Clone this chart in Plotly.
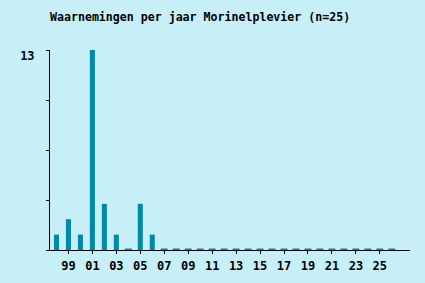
import plotly.graph_objects as go

years = list(range(1998, 2027))
counts = [1, 2, 1, 13, 3, 1, 0, 3, 1] + [0] * 20
tick_years = list(range(1999, 2026, 2))
tick_labels = [f"{y % 100:02d}" for y in tick_years]
y_ticks = [0, 3.25, 6.5, 9.75, 13]
y_labels = ["", "", "", "", "13"]

bar_color = "rgb(0,136,170)"
bg = "rgb(198,239,248)"
font_family = "DejaVu Sans Mono, Liberation Mono, monospace"

zero_years = [y for y, c in zip(years, counts) if c == 0]

fig = go.Figure()
fig.add_trace(go.Bar(x=years, y=counts, width=0.42, marker=dict(color=bar_color, line=dict(width=0)),
                     hoverinfo="x+y"))
fig.add_trace(go.Scatter(x=zero_years, y=[0] * len(zero_years), mode="markers",
                         marker=dict(symbol="line-ew", size=5, line=dict(color=bar_color, width=3)),
                         hoverinfo="skip"))

fig.update_layout(
    width=425, height=283,
    margin=dict(l=50, r=15, t=50, b=33, autoexpand=False),
    paper_bgcolor=bg, plot_bgcolor=bg,
    showlegend=False,
    title=dict(text="Waarnemingen per jaar Morinelplevier (n=25)", x=50 / 425, xref="container", xanchor="left",
               y=1 - 16.5 / 283, yref="container", yanchor="middle",
               font=dict(family=font_family, size=11.6, color="black", weight="bold")),
    xaxis=dict(range=[1997.46, 2027.52], tickvals=tick_years, ticktext=tick_labels,
               showgrid=False, zeroline=False, showline=True, linecolor="black", linewidth=1,
               ticks="outside", ticklen=3, tickcolor="black", automargin=False, ticklabelstandoff=2,
               tickfont=dict(family=font_family, size=12, color="black", weight="bold")),
    yaxis=dict(range=[0, 13], tickvals=y_ticks, ticktext=y_labels, automargin=False,
               showgrid=False, zeroline=False, showline=True, linecolor="black", linewidth=1,
               ticks="outside", ticklen=3, tickcolor="black", ticklabelstandoff=9, ticklabelshift=6,
               tickfont=dict(family=font_family, size=12, color="black", weight="bold")),
)

fig.write_html("out.html")
